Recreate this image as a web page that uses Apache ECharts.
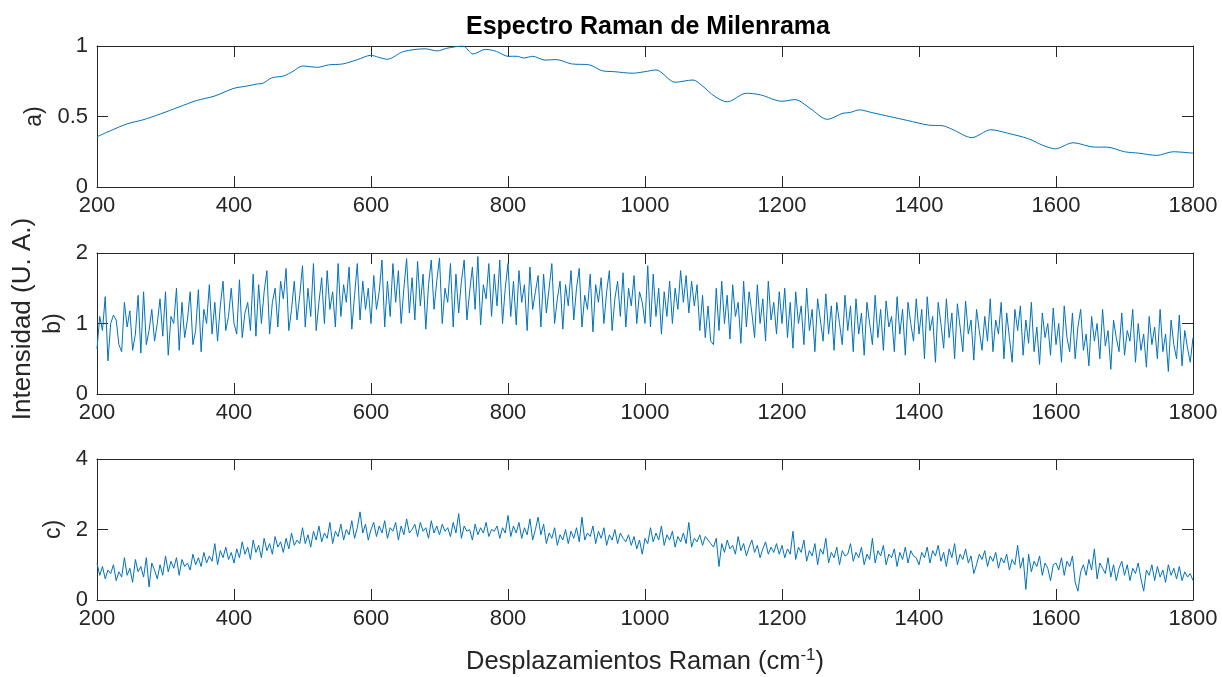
<!DOCTYPE html>
<html>
<head>
<meta charset="utf-8">
<script src="https://cdn.jsdelivr.net/npm/echarts@6/dist/echarts.min.js"></script>
<style>
  html, body { margin: 0; padding: 0; background: #fff; }
  #main { width: 1222px; height: 677px; }
</style>
</head>
<body>
<div id="main"></div>
<script>
// a) espectro suavizado (puntos leidos de la figura)
const ramanAx = [200, 220, 244, 267, 293, 319, 345, 371, 400, 418, 434, 442, 455, 473, 486, 500, 522, 538, 559, 580,
  600, 611, 624, 647, 679, 697, 710, 734, 749, 767, 783, 800, 813, 823, 836, 854, 870, 893, 919, 937,
  955, 982, 1000, 1016, 1044, 1070, 1083, 1102, 1120, 1148, 1169, 1200, 1219, 1242, 1266, 1289, 1299, 1313, 1331, 1357,
  1383, 1414, 1435, 1450, 1477, 1505, 1529, 1560, 1581, 1599, 1625, 1656, 1674, 1700, 1721, 1747, 1771, 1800];
const ramanAy = [0.356, 0.40, 0.448, 0.476, 0.519, 0.566, 0.613, 0.644, 0.70, 0.715, 0.731, 0.735, 0.774, 0.788, 0.82, 0.858, 0.849, 0.866, 0.873, 0.903,
  0.934, 0.92, 0.906, 0.96, 0.98, 0.965, 0.983, 1.0, 0.943, 0.976, 0.962, 0.927, 0.927, 0.915, 0.927, 0.90, 0.904, 0.873, 0.866, 0.825,
  0.818, 0.807, 0.818, 0.83, 0.743, 0.759, 0.72, 0.642, 0.604, 0.665, 0.653, 0.608, 0.62, 0.554, 0.48, 0.523, 0.528, 0.547, 0.528, 0.50,
  0.472, 0.439, 0.434, 0.406, 0.35, 0.406, 0.382, 0.342, 0.295, 0.271, 0.314, 0.283, 0.283, 0.25, 0.24, 0.224, 0.25, 0.24];

// b) y c) muestreados cada 4 cm-1 desde 200
const ramanStart = 200;
const ramanStep = 4;
const ramanB = [
  0.64, 1.1, 0.9, 1.38, 0.47, 1.0, 1.12, 1.05, 0.7, 0.6, 1.3, 0.95, 1.18, 0.62, 0.85, 1.4, 0.58, 1.45, 0.7, 0.9, 1.2, 0.75, 1.0, 1.35, 0.82,
  1.45, 0.55, 1.1, 1.0, 1.5, 0.62, 1.3, 0.8, 1.05, 1.45, 0.7, 0.9, 1.48, 0.6, 1.2, 1.0, 1.55, 0.85, 1.3, 0.75, 1.25, 1.6, 0.9, 1.1, 1.5,
  1.0, 0.85, 1.62, 0.8, 1.15, 1.3, 0.9, 1.7, 0.82, 1.55, 1.0, 1.45, 1.75, 0.85, 1.3, 1.5, 0.95, 1.6, 1.35, 1.78, 0.9, 1.2, 1.6, 1.05, 1.4,
  1.82, 0.95, 1.5, 1.1, 1.85, 0.9, 1.3, 1.65, 1.0, 1.75, 1.2, 1.45, 0.95, 1.85, 1.1, 1.55, 1.3, 1.8, 0.92, 1.4, 1.85, 1.05, 1.6, 1.2, 1.5,
  1.0, 1.68, 1.2, 1.45, 1.9, 0.95, 1.6, 1.1, 1.85, 1.3, 1.75, 1.0, 1.5, 1.92, 1.15, 1.65, 1.05, 1.88, 1.25, 1.7, 0.92, 1.55, 1.9, 1.2, 1.6,
  1.93, 1.0, 1.5, 1.3, 1.85, 0.95, 1.7, 1.15, 1.6, 1.9, 1.05, 1.45, 1.8, 1.2, 1.95, 0.98, 1.55, 1.35, 1.85, 1.1, 1.7, 1.25, 1.9, 1.0, 1.5,
  1.85, 1.1, 1.6, 0.98, 1.75, 1.3, 1.55, 0.9, 1.8, 1.2, 1.45, 1.68, 0.95, 1.7, 1.15, 1.5, 1.85, 1.0, 1.35, 1.6, 0.92, 1.55, 1.25, 1.75, 1.05,
  1.5, 1.78, 0.95, 1.4, 1.2, 1.7, 0.88, 1.55, 1.3, 1.65, 1.0, 1.45, 1.75, 0.9, 1.35, 1.6, 1.1, 1.72, 0.95, 1.5, 1.25, 1.68, 1.0, 1.45, 1.3,
  1.0, 1.82, 0.95, 1.7, 1.1, 1.5, 0.85, 1.45, 1.1, 1.6, 1.0, 1.5, 1.2, 1.75, 1.3, 1.68, 1.15, 1.6, 1.25, 1.55, 0.9, 1.4, 0.8, 1.25, 0.75,
  0.7, 1.5, 0.9, 1.6, 1.0, 1.4, 0.78, 1.55, 1.1, 1.3, 0.72, 1.6, 0.95, 1.45, 1.15, 0.8, 1.55, 1.0, 1.35, 0.75, 1.6, 1.05, 1.3, 0.85, 1.45,
  1.0, 1.5, 0.8, 1.3, 0.65, 1.45, 1.0, 1.25, 0.7, 1.5, 0.9, 1.2, 0.6, 1.35, 1.05, 0.75, 1.42, 0.85, 1.25, 0.62, 1.3, 1.0, 0.7, 1.4, 0.9,
  1.25, 0.6, 1.35, 0.85, 1.15, 0.55, 1.3, 1.0, 0.7, 1.4, 0.8, 1.2, 0.62, 1.32, 0.95, 1.1, 0.6, 1.38, 0.85, 1.2, 0.55, 1.3, 1.0, 0.75, 1.35,
  0.85, 1.2, 0.5, 1.38, 0.9, 1.1, 0.45, 1.3, 1.0, 0.65, 1.35, 0.8, 1.15, 0.5, 1.28, 0.95, 0.6, 1.32, 0.85, 1.05, 0.48, 1.2, 0.9, 0.62, 1.1,
  0.75, 1.35, 0.6, 1.05, 0.85, 1.3, 0.5, 1.15, 0.8, 0.45, 1.2, 0.9, 1.25, 0.55, 1.05, 0.72, 1.3, 0.6, 0.95, 0.42, 1.15, 0.8, 1.0, 0.55, 1.22,
  0.7, 1.0, 0.45, 1.25, 0.8, 0.6, 1.15, 0.5, 0.95, 1.2, 0.62, 0.85, 0.4, 1.1, 0.75, 1.0, 0.5, 1.2, 0.68, 0.9, 0.35, 1.05, 0.8, 0.6, 1.15,
  0.55, 0.9, 0.75, 1.2, 0.45, 1.0, 0.62, 0.85, 0.38, 1.1, 0.7, 0.95, 0.5, 1.2, 0.6, 0.85, 0.32, 1.05, 0.7, 0.5, 1.12, 0.4, 0.9, 0.65, 0.45,
  0.8
];
const ramanC = [
  1.05, 0.7, 0.95, 0.6, 0.85, 0.75, 1.0, 0.55, 0.8, 0.65, 1.2, 0.7, 0.9, 0.5, 1.15, 0.8, 0.95, 0.65, 1.2, 0.37, 1.05, 0.85, 0.6, 1.0, 0.7,
  1.25, 0.8, 1.1, 0.9, 1.2, 0.7, 1.15, 0.95, 1.05, 0.85, 1.3, 1.0, 1.2, 0.95, 1.35, 1.05, 1.25, 1.1, 1.6, 1.0, 1.4, 1.2, 1.5, 1.15, 1.35,
  1.05, 1.45, 1.2, 1.65, 1.3, 1.5, 1.15, 1.7, 1.35, 1.55, 1.2, 1.75, 1.4, 1.6, 1.3, 1.8, 1.5, 1.65, 1.35, 1.75, 1.45, 1.9, 1.55, 1.7, 1.6,
  2.05, 1.6, 1.85, 1.5, 1.95, 1.7, 2.1, 1.65, 1.9, 1.75, 2.2, 1.6, 1.95, 1.8, 2.15, 1.7, 2.0, 1.85, 2.25, 1.75, 2.05, 2.5, 1.9, 2.15, 1.7,
  2.0, 2.2, 1.8, 2.1, 1.9, 2.25, 1.75, 2.05, 1.95, 2.2, 1.7, 2.1, 1.85, 2.3, 1.9, 2.0, 2.15, 1.8, 2.2, 1.95, 2.05, 1.75, 2.25, 1.9, 2.1,
  1.85, 2.15, 1.95, 2.05, 1.8, 2.2, 1.9, 2.45, 1.75, 2.1, 1.95, 2.0, 1.7, 2.15, 1.85, 2.05, 1.9, 2.2, 1.8, 2.0, 1.95, 2.1, 1.75, 2.05, 1.9,
  2.4, 1.8, 2.1, 1.9, 2.2, 1.75, 2.05, 1.85, 2.3, 1.7, 2.0, 2.35, 1.85, 2.15, 1.6, 1.9, 1.75, 2.05, 1.55, 1.85, 1.7, 2.0, 1.6, 1.95, 1.75,
  2.05, 1.65, 2.35, 1.7, 1.9, 1.8, 2.1, 1.6, 1.95, 1.75, 2.05, 1.55, 1.85, 1.7, 2.0, 1.6, 1.9, 1.75, 1.65, 1.85, 1.55, 1.8, 1.45, 1.7, 1.3,
  1.75, 1.6, 2.05, 1.65, 1.9, 1.7, 2.1, 1.55, 1.85, 1.7, 1.95, 1.5, 1.8, 1.65, 1.9, 1.6, 2.2, 1.5, 1.75, 1.65, 1.85, 1.55, 1.8, 1.7, 1.6,
  1.5, 1.75, 0.95, 1.6, 1.35, 1.7, 1.45, 1.55, 1.3, 1.8, 1.4, 1.6, 1.25, 1.5, 1.7, 1.35, 1.55, 1.2, 1.45, 1.65, 1.3, 1.5, 1.35, 1.6, 1.3,
  1.55, 1.2, 1.45, 1.3, 1.95, 1.15, 1.5, 1.35, 1.7, 1.1, 1.4, 1.25, 1.6, 1.0, 1.45, 1.3, 1.75, 1.05, 1.35, 1.2, 1.5, 1.0, 1.4, 1.25, 1.3,
  1.6, 1.1, 1.35, 1.2, 1.5, 1.0, 1.3, 1.15, 1.75, 1.05, 1.4, 1.25, 1.55, 1.0, 1.3, 1.2, 1.45, 0.95, 1.35, 1.15, 1.5, 1.05, 1.4, 1.25, 1.2,
  1.0, 1.35, 1.2, 1.5, 1.05, 1.4, 1.25, 1.55, 1.1, 1.35, 0.95, 1.45, 1.2, 1.6, 1.0, 1.3, 1.15, 1.45, 1.05, 1.25, 0.75, 1.0, 1.3, 1.15, 1.4,
  0.95, 1.25, 1.1, 1.35, 0.9, 1.2, 1.05, 1.3, 0.85, 1.15, 1.0, 1.55, 0.9, 1.2, 0.3, 1.3, 0.8, 1.1, 0.95, 1.25, 0.7, 1.05, 0.9, 0.55, 1.0,
  1.05, 0.85, 1.2, 0.7, 1.1, 0.95, 1.25, 0.5, 0.25, 0.8, 1.0, 0.7, 1.15, 0.85, 1.45, 0.6, 1.05, 0.9, 0.75, 1.2, 0.65, 1.0, 0.55, 0.9, 1.1,
  0.7, 1.0, 0.55, 0.9, 0.75, 1.05, 0.6, 0.25, 0.85, 0.7, 1.0, 0.55, 0.95, 0.65, 0.85, 0.5, 1.0, 0.7, 0.9, 0.6, 0.95, 0.55, 0.8, 0.65, 0.75,
  0.55
];
const xTicks = { min: 200, max: 1800, interval: 200 };
const yRanges = [
  { min: 0, max: 1, interval: 0.5, name: 'a)', gap: 48 },
  { min: 0, max: 2, interval: 1, name: 'b)', gap: 30 },
  { min: 0, max: 4, interval: 2, name: 'c)', gap: 30 }
];

const lineColor = '#0072BD';
const axisColor = '#262626';
const fontFam = '"Liberation Sans", Arial, Helvetica, sans-serif';
const gridTops = [46, 253, 459];

function pairsFromSteps(vals) {
  return vals.map((v, i) => [ramanStart + i * ramanStep, v]);
}

let chart = echarts.init(document.getElementById('main'));

let grids = [], xAxes = [], yAxes = [];
gridTops.forEach(function (top, i) {
  grids.push({ left: 97, right: 29, top: top, height: 141, show: false });
  // eje inferior con etiquetas
  xAxes.push({
    type: 'value', gridIndex: i, min: xTicks.min, max: xTicks.max, interval: xTicks.interval,
    position: 'bottom',
    axisLine: { show: true, onZero: false, lineStyle: { color: axisColor, width: 1 } },
    axisTick: { show: true, inside: true, length: 11, lineStyle: { color: axisColor } },
    axisLabel: { color: axisColor, fontSize: 22, fontFamily: fontFam, margin: 8, formatter: (v) => String(v) },
    splitLine: { show: false }
  });
  // eje superior (solo caja y marcas)
  xAxes.push({
    type: 'value', gridIndex: i, min: xTicks.min, max: xTicks.max, interval: xTicks.interval,
    position: 'top',
    axisLine: { show: true, onZero: false, lineStyle: { color: axisColor, width: 1 } },
    axisTick: { show: true, inside: true, length: 11, lineStyle: { color: axisColor } },
    axisLabel: { show: false },
    splitLine: { show: false }
  });
  const yr = yRanges[i];
  yAxes.push({
    type: 'value', gridIndex: i, min: yr.min, max: yr.max, interval: yr.interval,
    position: 'left',
    name: yr.name, nameLocation: 'middle', nameGap: yr.gap, nameRotate: 90,
    nameTextStyle: { color: axisColor, fontSize: 23, fontFamily: fontFam },
    axisLine: { show: true, onZero: false, lineStyle: { color: axisColor, width: 1 } },
    axisTick: { show: true, inside: true, length: 11, lineStyle: { color: axisColor } },
    axisLabel: { color: axisColor, fontSize: 22, fontFamily: fontFam, margin: 9, formatter: (v) => String(v) },
    splitLine: { show: false }
  });
  yAxes.push({
    type: 'value', gridIndex: i, min: yr.min, max: yr.max, interval: yr.interval,
    position: 'right',
    axisLine: { show: true, onZero: false, lineStyle: { color: axisColor, width: 1 } },
    axisTick: { show: true, inside: true, length: 11, lineStyle: { color: axisColor } },
    axisLabel: { show: false },
    splitLine: { show: false }
  });
});

const lineBase = {
  type: 'line', showSymbol: false, symbol: 'none', animation: false,
  lineStyle: { color: lineColor, width: 1 }, itemStyle: { color: lineColor }
};

let option = {
  backgroundColor: '#ffffff',
  animation: false,
  grid: grids,
  xAxis: xAxes,
  yAxis: yAxes,
  graphic: [
    {
      type: 'text', x: 648, y: 27,
      style: { text: 'Espectro Raman de Milenrama', font: 'bold 25px ' + fontFam, fill: '#000', textAlign: 'center', textVerticalAlign: 'middle' }
    },
    {
      type: 'text', x: 645, y: 662,
      style: {
        text: 'Desplazamientos Raman (cm{sup|-1})',
        font: '25.5px ' + fontFam, fill: axisColor, textAlign: 'center', textVerticalAlign: 'middle',
        rich: { sup: { fontSize: 17, fontFamily: fontFam, fill: axisColor, padding: [0, 0, 14, 0] } }
      }
    },
    {
      type: 'text', x: 23, y: 319, rotation: Math.PI / 2,
      style: { text: 'Intensidad (U. A.)', font: '26px ' + fontFam, fill: axisColor, textAlign: 'center', textVerticalAlign: 'middle' }
    }
  ],
  series: [
    Object.assign({}, lineBase, { xAxisIndex: 0, yAxisIndex: 0, smooth: 0.3, data: ramanAx.map((x, i) => [x, ramanAy[i]]) }),
    Object.assign({}, lineBase, { xAxisIndex: 2, yAxisIndex: 2, data: pairsFromSteps(ramanB) }),
    Object.assign({}, lineBase, { xAxisIndex: 4, yAxisIndex: 4, data: pairsFromSteps(ramanC) })
  ]
};

chart.setOption(option);
</script>
</body>
</html>
